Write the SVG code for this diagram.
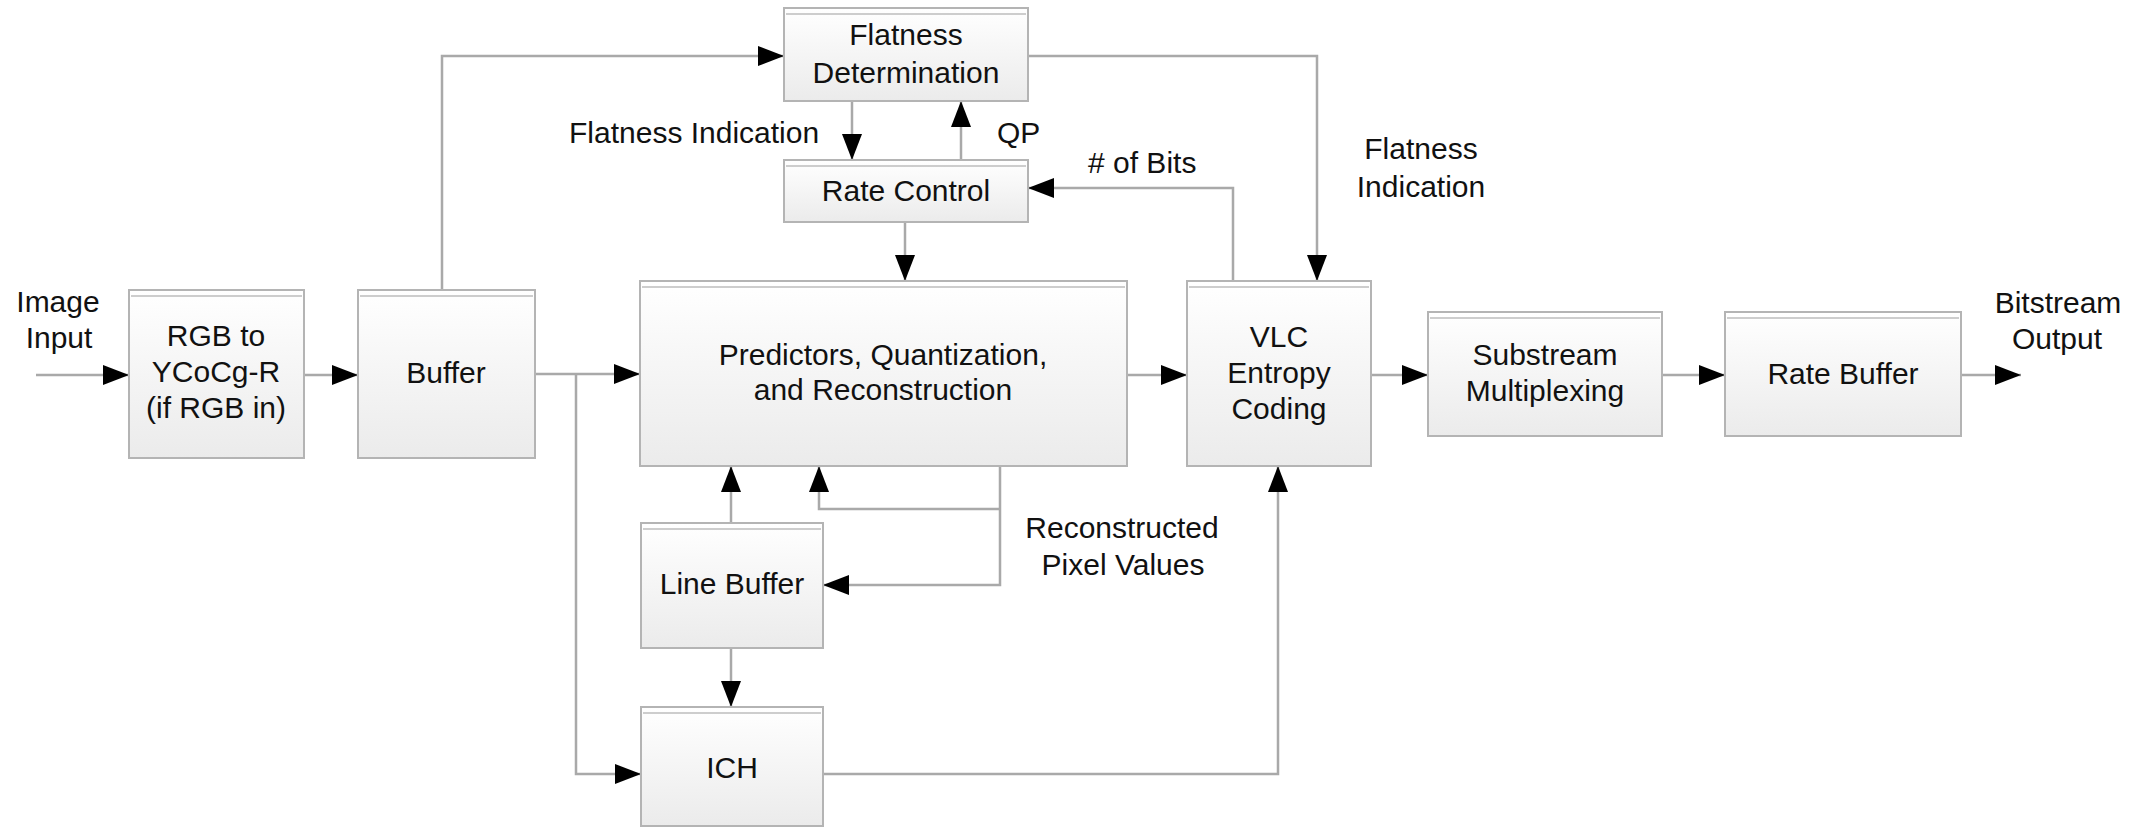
<svg xmlns="http://www.w3.org/2000/svg" width="2149" height="828" viewBox="0 0 2149 828">
<defs>
<linearGradient id="g" x1="0" y1="0" x2="0" y2="1">
<stop offset="0" stop-color="#ffffff"/>
<stop offset="1" stop-color="#ebebeb"/>
</linearGradient>
<marker id="ah" markerUnits="userSpaceOnUse" markerWidth="27" markerHeight="21" refX="26" refY="10" orient="auto">
<path d="M0,0 L26,10 L0,20 Z" fill="#000"/>
</marker>
<style>
.box{fill:url(#g);stroke:#b4b4b4;stroke-width:2}
.hl{stroke:#bdbdbd;stroke-width:1.5;fill:none}
.t{font-family:"Liberation Sans",Arial,sans-serif;font-size:30px;fill:#111;text-anchor:middle}
.ts{font-family:"Liberation Sans",Arial,sans-serif;font-size:30px;fill:#111}
.c{fill:none;stroke:#a9a9a9;stroke-width:2.5}
.ca{fill:none;stroke:#a9a9a9;stroke-width:2.5;marker-end:url(#ah)}
</style>
</defs>
<rect width="2149" height="828" fill="#fff"/>
<g id="connectors">
<path class="ca" d="M36,375 H129"/>
<path class="ca" d="M304,375 H358"/>
<path class="ca" d="M535,374 H640"/>
<path class="ca" d="M576,374 V774 H641"/>
<path class="ca" d="M442,290 V56 H784"/>
<path class="ca" d="M852,101 V160"/>
<path class="ca" d="M961,160 V101"/>
<path class="ca" d="M1028,56 H1317 V281"/>
<path class="ca" d="M1233,281 V188 H1028"/>
<path class="ca" d="M905,222 V281"/>
<path class="ca" d="M1127,375 H1187"/>
<path class="ca" d="M1371,375 H1428"/>
<path class="ca" d="M1662,375 H1725"/>
<path class="ca" d="M1961,375 H2021"/>
<path class="ca" d="M731,523 V466"/>
<path class="ca" d="M1000,466 V585 H823"/>
<path class="ca" d="M1000,509 H819 V466"/>
<path class="ca" d="M731,648 V707"/>
<path class="ca" d="M823,774 H1278 V466"/>
</g>
<g id="rgb">
<rect class="box" x="129" y="290" width="175" height="168"/>
<line class="hl" x1="131" y1="296" x2="302" y2="296"/>
<text class="t" x="216" y="346">RGB to</text>
<text class="t" x="216" y="382">YCoCg-R</text>
<text class="t" x="216" y="418">(if RGB in)</text>
</g>
<g id="buffer">
<rect class="box" x="358" y="290" width="177" height="168"/>
<line class="hl" x1="360" y1="296" x2="533" y2="296"/>
<text class="t" x="446" y="383">Buffer</text>
</g>
<g id="flatness">
<rect class="box" x="784" y="8" width="244" height="93"/>
<line class="hl" x1="786" y1="14" x2="1026" y2="14"/>
<text class="t" x="906" y="45">Flatness</text>
<text class="t" x="906" y="83">Determination</text>
</g>
<g id="ratecontrol">
<rect class="box" x="784" y="160" width="244" height="62"/>
<line class="hl" x1="786" y1="166" x2="1026" y2="166"/>
<text class="t" x="906" y="201">Rate Control</text>
</g>
<g id="predictors">
<rect class="box" x="640" y="281" width="487" height="185"/>
<line class="hl" x1="642" y1="287" x2="1125" y2="287"/>
<text class="t" x="883" y="365">Predictors, Quantization,</text>
<text class="t" x="883" y="400">and Reconstruction</text>
</g>
<g id="vlc">
<rect class="box" x="1187" y="281" width="184" height="185"/>
<line class="hl" x1="1189" y1="287" x2="1369" y2="287"/>
<text class="t" x="1279" y="347">VLC</text>
<text class="t" x="1279" y="383">Entropy</text>
<text class="t" x="1279" y="419">Coding</text>
</g>
<g id="substream">
<rect class="box" x="1428" y="312" width="234" height="124"/>
<line class="hl" x1="1430" y1="318" x2="1660" y2="318"/>
<text class="t" x="1545" y="365">Substream</text>
<text class="t" x="1545" y="401">Multiplexing</text>
</g>
<g id="ratebuffer">
<rect class="box" x="1725" y="312" width="236" height="124"/>
<line class="hl" x1="1727" y1="318" x2="1959" y2="318"/>
<text class="t" x="1843" y="384">Rate Buffer</text>
</g>
<g id="linebuffer">
<rect class="box" x="641" y="523" width="182" height="125"/>
<line class="hl" x1="643" y1="529" x2="821" y2="529"/>
<text class="t" x="732" y="594">Line Buffer</text>
</g>
<g id="ich">
<rect class="box" x="641" y="707" width="182" height="119"/>
<line class="hl" x1="643" y1="713" x2="821" y2="713"/>
<text class="t" x="732" y="778">ICH</text>
</g>
<g id="labels">
<text class="t" x="58" y="312">Image</text>
<text class="t" x="59" y="348">Input</text>
<text class="ts" x="569" y="143">Flatness Indication</text>
<text class="ts" x="997" y="143">QP</text>
<text class="ts" x="1088" y="173"># of Bits</text>
<text class="t" x="1421" y="159">Flatness</text>
<text class="t" x="1421" y="197">Indication</text>
<text class="t" x="1122" y="538">Reconstructed</text>
<text class="t" x="1123" y="575">Pixel Values</text>
<text class="t" x="2058" y="313">Bitstream</text>
<text class="t" x="2057" y="349">Output</text>
</g>
</svg>
